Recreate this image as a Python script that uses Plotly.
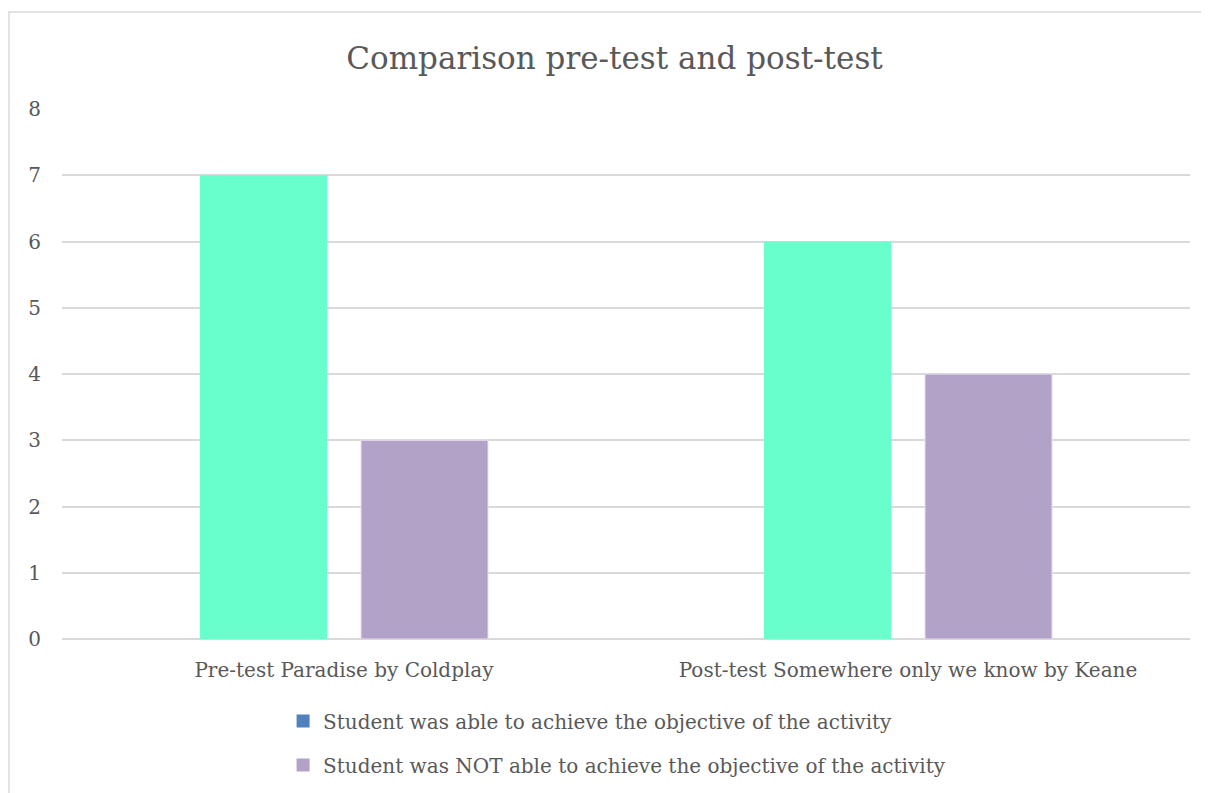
import plotly.graph_objects as go

categories = ["Pre-test Paradise by Coldplay", "Post-test Somewhere only we know by Keane"]
series_names = [
    "Student was able to achieve the objective of the activity",
    "Student was NOT able to achieve the objective of the activity",
]
able = [7, 6]
not_able = [3, 4]

COLOR_ABLE = "#69FFCC"
COLOR_NOT = "#B3A2C7"
COLOR_LEGEND_ABLE = "#4F81BD"
FONT = "DejaVu Serif"
TEXT = "#595959"
GRID = "#d9d9d9"

fig = go.Figure()
fig.add_trace(go.Bar(x=categories, y=able, name=series_names[0], marker_color=COLOR_ABLE,
                     marker_line=dict(width=0), showlegend=False))
fig.add_trace(go.Bar(x=categories, y=not_able, name=series_names[1], marker_color=COLOR_NOT,
                     marker_line=dict(color="#e6e0ee", width=1), showlegend=False))

# legend swatches (the original legend shows a blue swatch for the first series)
for name, color, grp in [(series_names[0], COLOR_LEGEND_ABLE, "a"), (series_names[1], COLOR_NOT, "b")]:
    fig.add_trace(go.Scatter(x=[None], y=[None], mode="markers", name=name, legendgroup=grp,
                             marker=dict(symbol="square", size=13, color=color)))

fig.update_layout(
    width=1209, height=793,
    paper_bgcolor="white", plot_bgcolor="white",
    margin=dict(l=54, r=27, t=101, b=162),
    font=dict(family=FONT, color=TEXT, size=20),
    title=dict(text="Comparison pre-test and post-test", x=0.5017, xanchor="center", y=0.937, yanchor="middle",
               font=dict(size=31, color=TEXT, family=FONT)),
    barmode="group", bargap=0.429, bargroupgap=0.211,
    showlegend=True,
    legend=dict(x=0.196, xanchor="left", y=-0.118, yanchor="top", traceorder="grouped",
                tracegroupgap=15, font=dict(size=20, color=TEXT, family=FONT),
                bgcolor="rgba(0,0,0,0)"),
    xaxis=dict(showgrid=False, showline=False, automargin=False, ticks="outside", ticklen=13,
               tickcolor="rgba(0,0,0,0)", tickfont=dict(size=20, color=TEXT)),
    yaxis=dict(range=[0, 8.001], dtick=1, showgrid=True, gridcolor=GRID, gridwidth=1.5,
               zeroline=True, zerolinecolor=GRID, zerolinewidth=1.5, showline=False, automargin=False,
               ticks="outside", ticklen=16, tickcolor="rgba(0,0,0,0)", tickfont=dict(size=20, color=TEXT)),
    shapes=[dict(type="rect", xref="paper", yref="paper", x0=-0.047, x1=1.1, y0=-0.4, y1=1.183,
                 line=dict(color=GRID, width=1.5), fillcolor="rgba(0,0,0,0)", layer="below")],
)

fig.write_html("out.html")
